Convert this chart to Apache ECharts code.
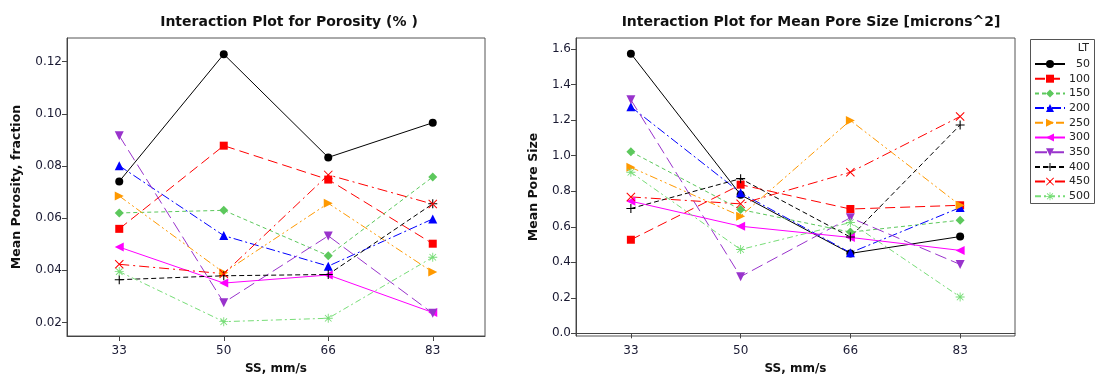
<!DOCTYPE html>
<html>
<head>
<meta charset="utf-8">
<script src="https://cdn.jsdelivr.net/npm/echarts@6/dist/echarts.min.js"></script>
<style>
html,body{margin:0;padding:0;background:#fff;}
#chart{width:1096px;height:380px;}
</style>
</head>
<body>
<div id="chart"></div>
<script>
// ---- data ----
const ssLabels = ['33', '50', '66', '83'];
const ltLevels = ['50', '100', '150', '200', '250', '300', '350', '400', '450', '500'];
const porosityTicks = [0.02, 0.04, 0.06, 0.08, 0.10, 0.12];
const poreTicks = [0.0, 0.2, 0.4, 0.6, 0.8, 1.0, 1.2, 1.4, 1.6];

const porLT50  = [0.0741, 0.1229, 0.0833, 0.0966];
const porLT100 = [0.0559, 0.0878, 0.0748, 0.0502];
const porLT150 = [0.0620, 0.0630, 0.0456, 0.0758];
const porLT200 = [0.0801, 0.0533, 0.0416, 0.0597];
const porLT250 = [0.0685, 0.0391, 0.0657, 0.0393];
const porLT300 = [0.0489, 0.0351, 0.0382, 0.0238];
const porLT350 = [0.0916, 0.0276, 0.0532, 0.0235];
const porLT400 = [0.0364, 0.0379, 0.0384, 0.0655];
const porLT450 = [0.0423, 0.0387, 0.0766, 0.0654];
const porLT500 = [0.0395, 0.0203, 0.0216, 0.0450];

const poreLT50  = [1.575, 0.780, 0.450, 0.545];
const poreLT100 = [0.527, 0.837, 0.700, 0.721];
const poreLT150 = [1.023, 0.697, 0.570, 0.637];
const poreLT200 = [1.276, 0.791, 0.454, 0.708];
const poreLT250 = [0.935, 0.660, 1.199, 0.721];
const poreLT300 = [0.744, 0.603, 0.540, 0.467];
const poreLT350 = [1.315, 0.319, 0.651, 0.388];
const poreLT400 = [0.703, 0.871, 0.542, 1.173];
const poreLT450 = [0.768, 0.729, 0.907, 1.221];
const poreLT500 = [0.907, 0.472, 0.624, 0.205];

const porosityData = [porLT50, porLT100, porLT150, porLT200, porLT250, porLT300, porLT350, porLT400, porLT450, porLT500];
const poreData = [poreLT50, poreLT100, poreLT150, poreLT200, poreLT250, poreLT300, poreLT350, poreLT400, poreLT450, poreLT500];

// ---- styles ----
const PLUS = 'path://M4.4,0H5.6V4.4H10V5.6H5.6V10H4.4V5.6H0V4.4H4.4Z';
const CROSS = 'path://M0,0.8L0.8,0L10,9.2L9.2,10Z M9.2,0L10,0.8L0.8,10L0,9.2Z';
const STAR = 'path://M4.5,0H5.5V4.5H10V5.5H5.5V10H4.5V5.5H0V4.5H4.5Z M1,1.7L1.7,1L9,8.3L8.3,9Z M8.3,1L9,1.7L1.7,9L1,8.3Z';
const styles = [
  {color: '#000000', symbol: 'circle', size: 8, dash: 'solid'},
  {color: '#ff0000', symbol: 'rect', size: 8, dash: [10, 5]},
  {color: '#5cc85c', symbol: 'diamond', size: 9, dash: [4, 3]},
  {color: '#0000ff', symbol: 'triangle', size: 9, dash: [9, 3, 2, 3]},
  {color: '#ff9900', symbol: 'path://M0,0L10,5L0,10Z', size: 9, dash: [8, 3, 2, 3, 2, 3]},
  {color: '#ff00ff', symbol: 'path://M10,0L0,5L10,10Z', size: 9, dash: 'solid'},
  {color: '#9933cc', symbol: 'path://M0,0L10,0L5,10Z', size: 9, dash: [12, 5]},
  {color: '#000000', symbol: PLUS, size: 9, dash: [5, 3]},
  {color: '#ff0000', symbol: CROSS, size: 9, dash: [10, 4, 2, 4]},
  {color: '#77dd77', symbol: STAR, size: 9, dash: [6, 3, 2, 3]}
];

const FONT = 'DejaVu Sans';
const chart = echarts.init(document.getElementById('chart'), null, {renderer: 'canvas'});

function makeSeries(data, gi) {
  return ltLevels.map((lt, i) => ({
    name: lt,
    type: 'line',
    xAxisIndex: gi,
    yAxisIndex: gi,
    data: data[i],
    symbol: styles[i].symbol,
    symbolSize: styles[i].size,
    showAllSymbol: true,
    animation: false,
    lineStyle: {color: styles[i].color, width: 1, type: styles[i].dash},
    itemStyle: {color: styles[i].color},
    emphasis: {disabled: true}
  }));
}

function yAxis(gi, min, max, ticks, name, gap) {
  return {
    type: 'value', gridIndex: gi, min: min, max: max,
    name: name, nameLocation: 'middle', nameGap: gap,
    nameTextStyle: {fontFamily: FONT, fontWeight: 'bold', fontSize: 12.5, color: '#111'},
    axisLine: {show: true, lineStyle: {color: '#444'}},
    axisTick: {show: true, length: 5, lineStyle: {color: '#444'}, customValues: ticks},
    axisLabel: {fontFamily: FONT, fontSize: 12, color: '#1a1a33', margin: 5, customValues: ticks,
      formatter: v => v.toFixed(ticks[1] - ticks[0] < 0.1 ? 2 : 1)},
    splitLine: {show: false}
  };
}

function xAxis(gi) {
  return {
    type: 'category', gridIndex: gi, data: ssLabels, boundaryGap: true,
    name: 'SS, mm/s', nameLocation: 'middle', nameGap: 27,
    nameTextStyle: {fontFamily: FONT, fontWeight: 'bold', fontSize: 12, color: '#111'},
    axisLine: {show: true, lineStyle: {color: '#444'}},
    axisTick: {show: true, alignWithLabel: true, length: 5, lineStyle: {color: '#444'}},
    axisLabel: {fontFamily: FONT, fontSize: 12, color: '#1a1a33', margin: 9},
    splitLine: {show: false}
  };
}

const option = {
  backgroundColor: '#ffffff',
  animation: false,
  title: [
    {text: 'Interaction Plot for Porosity (% )', left: 284, top: 10, textAlign: 'center',
     textStyle: {fontFamily: FONT, fontWeight: 'bold', fontSize: 14, color: '#111'}},
    {text: 'Interaction Plot for Mean Pore Size [microns^2]', left: 806, top: 10, textAlign: 'center',
     textStyle: {fontFamily: FONT, fontWeight: 'bold', fontSize: 14, color: '#111'}}
  ],
  grid: [
    {left: 67, top: 38, width: 418, height: 299, show: true, borderColor: '#555', borderWidth: 1, containLabel: false},
    {left: 576, top: 38, width: 439, height: 299, show: true, borderColor: '#555', borderWidth: 1, containLabel: false}
  ],
  xAxis: [xAxis(0), xAxis(1)],
  yAxis: [
    yAxis(0, 0.0148, 0.1291, porosityTicks, 'Mean Porosity, fraction', 44),
    yAxis(1, -0.015, 1.663, poreTicks, 'Mean Pore Size', 36)
  ],
  legend: {
    orient: 'vertical',
    left: 1034, top: 58.5,
    itemWidth: 30, itemHeight: 10, itemGap: 3.7,
    padding: 0,
    data: ltLevels,
    formatter: name => '{t|' + name + '}',
    textStyle: {fontFamily: FONT, fontSize: 11, color: '#222',
      rich: {t: {width: 20, align: 'right', fontFamily: FONT, fontSize: 11, color: '#222'}}},
    selectedMode: false
  },
  graphic: [
    {type: 'rect', shape: {x: 1030.5, y: 39.5, width: 64, height: 164},
     style: {fill: 'none', stroke: '#555', lineWidth: 1}, silent: true},
    {type: 'text', x: 1089, y: 48, style: {text: 'LT', fontFamily: FONT, fontSize: 11, fill: '#222',
     textAlign: 'right', textVerticalAlign: 'middle'}, silent: true}
  ],
  series: makeSeries(porosityData, 0).concat(makeSeries(poreData, 1))
};
chart.setOption(option);
</script>
</body>
</html>
